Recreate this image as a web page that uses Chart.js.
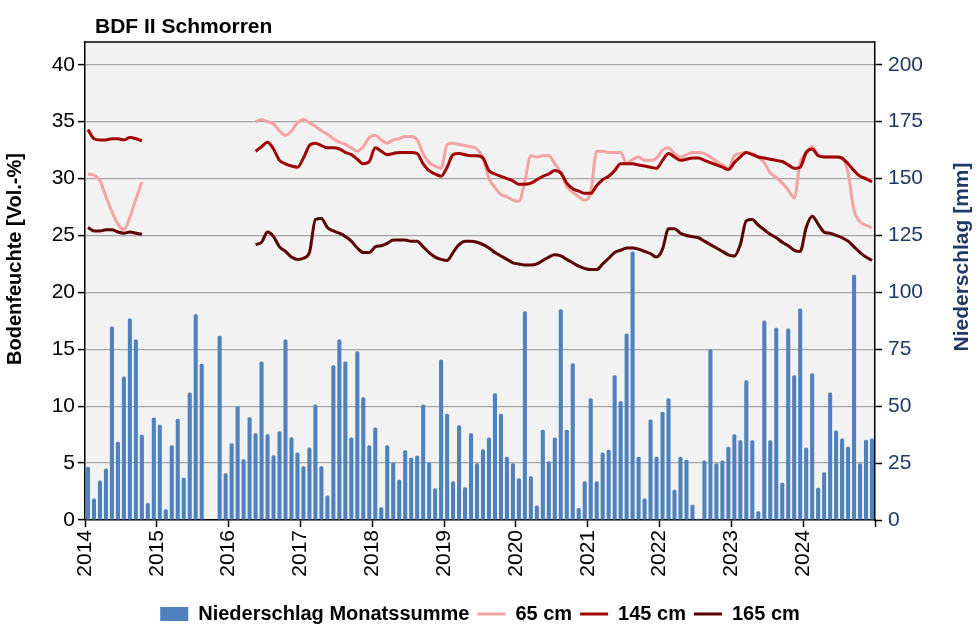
<!DOCTYPE html>
<html>
<head>
<meta charset="utf-8">
<script src="https://cdn.jsdelivr.net/npm/chart.js@4.4.0/dist/chart.umd.min.js"></script>
<style>
  html, body { margin: 0; padding: 0; background: #fff; }
  #wrap { width: 977px; height: 631px; }
</style>
</head>
<body>
<div id="wrap"><canvas id="chart" width="977" height="631"></canvas></div>
<script>
// years shown on the x axis, months are built from them
const years = [2014, 2015, 2016, 2017, 2018, 2019, 2020, 2021, 2022, 2023, 2024];
const months = [];
years.forEach(y => { for (let m = 1; m <= 12; m++) months.push(y + '-' + (m < 10 ? '0' + m : m)); });

// tick labels of both value axes
const leftTicks = [0, 5, 10, 15, 20, 25, 30, 35, 40];
const rightTicks = [0, 25, 50, 75, 100, 125, 150, 175, 200];

// monthly precipitation sum [mm], Jan 2014 .. Dec 2024 (Sep/Oct 2015 missing)
const rain2014 = [23.4, 9.5, 17.4, 22.6, 85, 34.4, 63, 88.5, 79.3, 37.5, 7.5, 45];
const rain2015 = [41.9, 4.7, 32.8, 44.5, 18.6, 56, 90.4, 68.7, null, null, 81, 20.5];
const rain2016 = [33.7, 50.1, 26.7, 45.1, 38.1, 69.6, 37.7, 28.4, 39, 79.3, 36.3, 29.7];
const rain2017 = [23.6, 31.8, 50.7, 23.6, 10.8, 68, 79.3, 69.6, 36.2, 74.1, 53.9, 32.8];
const rain2018 = [40.6, 5.6, 32.8, 25.3, 17.7, 30.6, 27.4, 28.3, 50.7, 25.3, 13.9, 70.5];
const rain2019 = [46.7, 17, 41.6, 14.4, 38.1, 24.9, 31.1, 36.2, 55.7, 46.7, 27.8, 24.9];
const rain2020 = [18.3, 91.7, 19.2, 6.4, 39.7, 25.8, 36.2, 92.6, 39.7, 68.9, 5.3, 17];
const rain2021 = [53.5, 17, 29.7, 30.9, 63.6, 52.2, 81.9, 118, 27.8, 9.5, 44.1, 27.8];
const rain2022 = [47.6, 53.5, 13.3, 27.8, 26.5, 6.7, 0.6, 26.1, 75, 24.9, 26.1, 32.2];
const rain2023 = [37.7, 35, 61.4, 35, 3.8, 87.6, 35, 84.5, 16.4, 84.1, 63.6, 92.9];
const rain2024 = [31.8, 64.5, 14.2, 21, 56, 39.3, 35.8, 32.2, 107.8, 24.9, 35.3, 35.8];

// soil moisture [Vol.-%], monthly, Jan-Oct 2014 then gap until May 2016
const m65_2014 = [30.4, 30.3, 29.8, 28.4, 27.1, 26.0, 25.5, 26.6, 28.2, 29.7];
const m145_2014 = [34.3, 33.5, 33.4, 33.4, 33.5, 33.5, 33.4, 33.6, 33.5, 33.3];
const m165_2014 = [25.7, 25.4, 25.4, 25.5, 25.5, 25.3, 25.2, 25.3, 25.2, 25.1];
const gapMonths = 18; // Nov 2014 .. Apr 2016

// May 2016 .. Dec 2024
const m65 = [35.0, 35.2, 35.0, 34.8, 34.2, 33.8, 34.2, 34.9,
  35.2, 34.9, 34.6, 34.2, 33.9, 33.5, 33.2, 33.0, 32.7, 32.4, 32.8, 33.6,
  33.8, 33.4, 33.1, 33.4, 33.5, 33.7, 33.7, 33.4, 32.2, 31.4, 31.1, 30.9,
  33.0, 33.1, 33.0, 32.9, 32.8, 32.6, 31.8, 30.0, 29.2, 28.6, 28.4, 28.1,
  28.0, 29.8, 32.0, 31.9, 32.0, 32.0, 31.3, 30.5, 29.3, 28.8, 28.4, 28.1,
  28.8, 32.4, 32.4, 32.3, 32.3, 32.3, 31.3, 31.7, 31.9, 31.6, 31.6, 31.8,
  32.5, 32.7, 32.2, 31.9, 32.1, 32.3, 32.3, 32.2, 31.9, 31.5, 31.2, 30.9,
  32.0, 32.2, 32.3, 32.2, 31.9, 31.4, 30.5, 30.1, 29.6, 29.0, 28.3, 31.4,
  32.2, 32.8, 32.1, 31.9, 31.9, 31.9, 31.8, 30.5, 27.2, 26.2, 25.9, 25.7];
const m145 = [32.4, 32.8, 33.2, 32.6, 31.6, 31.3, 31.1, 31.0,
  31.8, 32.9, 33.1, 32.9, 32.7, 32.7, 32.6, 32.3, 32.1, 31.7, 31.3, 31.5,
  32.7, 32.4, 32.1, 32.2, 32.3, 32.3, 32.3, 32.2, 31.3, 30.7, 30.4, 30.2,
  31.0, 32.1, 32.2, 32.1, 32.0, 32.0, 31.8, 30.7, 30.4, 30.2, 30.0, 29.8,
  29.5, 29.5, 29.6, 29.9, 30.2, 30.4, 30.7, 30.5, 29.6, 29.1, 28.9, 28.7,
  28.7, 29.4, 29.9, 30.2, 30.7, 31.3, 31.3, 31.3, 31.2, 31.1, 31.0, 30.9,
  31.6, 32.2, 31.9, 31.6, 31.7, 31.8, 31.8, 31.6, 31.4, 31.2, 31.0, 30.8,
  31.4, 31.9, 32.3, 32.1, 31.9, 31.8, 31.7, 31.6, 31.5, 31.2, 30.9, 31.0,
  32.3, 32.6, 32.0, 31.9, 31.9, 31.9, 31.8, 31.3, 30.7, 30.2, 30.0, 29.7];
const m165 = [24.2, 24.4, 25.3, 24.9, 24.0, 23.6, 23.1, 22.9,
  23.0, 23.5, 26.4, 26.5, 25.7, 25.4, 25.2, 24.9, 24.5, 23.9, 23.5, 23.5,
  24.0, 24.1, 24.3, 24.6, 24.6, 24.6, 24.5, 24.5, 24.0, 23.5, 23.1, 22.9,
  22.8, 23.5, 24.2, 24.5, 24.5, 24.4, 24.2, 23.9, 23.5, 23.2, 22.9, 22.6,
  22.5, 22.4, 22.4, 22.5, 22.8, 23.1, 23.3, 23.2, 22.9, 22.6, 22.3, 22.1,
  22.0, 22.0, 22.5, 23.0, 23.5, 23.7, 23.9, 23.9, 23.8, 23.6, 23.4, 23.1,
  23.8, 25.6, 25.6, 25.2, 25.0, 24.9, 24.8, 24.5, 24.2, 23.9, 23.6, 23.3,
  23.2, 24.2, 26.3, 26.4, 25.9, 25.5, 25.1, 24.8, 24.4, 24.1, 23.7, 23.6,
  25.7, 26.7, 26.0, 25.3, 25.2, 25.0, 24.8, 24.5, 24.0, 23.5, 23.1, 22.8];

const rain = [].concat(rain2014, rain2015, rain2016, rain2017, rain2018, rain2019,
  rain2020, rain2021, rain2022, rain2023, rain2024);

function withGap(first, rest) {
  return first.concat(new Array(gapMonths).fill(null), rest);
}

const FONT = "'Liberation Sans', Arial, sans-serif";
Chart.defaults.font.family = FONT;
Chart.defaults.color = '#000';

function verticalText(ctx, text, x, y, color) {
  ctx.save();
  ctx.translate(x, y);
  ctx.rotate(-Math.PI / 2);
  ctx.fillStyle = color;
  ctx.textAlign = 'center';
  ctx.textBaseline = 'middle';
  ctx.fillText(text, 0, 0);
  ctx.restore();
}

// grey plot background, black top border, heading and the two axis titles
const plotFrame = {
  id: 'plotFrame',
  beforeDraw(chart) {
    const { ctx, chartArea: a } = chart;
    ctx.save();
    ctx.fillStyle = '#f2f2f2';
    ctx.fillRect(a.left, a.top, a.right - a.left, a.bottom - a.top);
    ctx.restore();
  },
  afterDraw(chart) {
    const { ctx, chartArea: a } = chart;
    ctx.save();
    ctx.strokeStyle = '#000';
    ctx.lineWidth = 1.5;
    ctx.beginPath();
    ctx.moveTo(a.left, a.top);
    ctx.lineTo(a.right, a.top);
    ctx.stroke();
    ctx.fillStyle = '#000';
    ctx.font = 'bold 21px ' + FONT;
    ctx.textBaseline = 'alphabetic';
    ctx.fillText('BDF II Schmorren', 95, 33);
    ctx.font = 'bold 20px ' + FONT;
    verticalText(ctx, 'Bodenfeuchte [Vol.-%]', 15, 259, '#000');
    ctx.font = 'bold 21px ' + FONT;
    verticalText(ctx, 'Niederschlag [mm]', 962, 257, '#1f3864');
    ctx.restore();
  }
};

const ctx = document.getElementById('chart').getContext('2d');
const myChart = new Chart(ctx, {
  type: 'bar',
  data: {
    labels: months,
    datasets: [{
      type: 'bar',
      label: 'Niederschlag Monatssumme',
      data: rain,
      yAxisID: 'y2',
      xAxisID: 'x',
      backgroundColor: '#4f81bd',
      borderColor: '#4f81bd',
      borderWidth: 0,
      borderRadius: 1.5,
      borderSkipped: 'bottom',
      barPercentage: 0.68,
      categoryPercentage: 1.0,
      order: 4
    }, {
      type: 'line',
      label: '65 cm',
      data: withGap(m65_2014, m65),
      yAxisID: 'y',
      xAxisID: 'x',
      borderColor: '#f4a3a3',
      backgroundColor: '#f4a3a3',
      borderWidth: 3,
      pointRadius: 0,
      cubicInterpolationMode: 'monotone',
      spanGaps: false,
      order: 3
    }, {
      type: 'line',
      label: '145 cm',
      data: withGap(m145_2014, m145),
      yAxisID: 'y',
      xAxisID: 'x',
      borderColor: '#a00000',
      backgroundColor: '#a00000',
      borderWidth: 3,
      pointRadius: 0,
      cubicInterpolationMode: 'monotone',
      spanGaps: false,
      order: 2
    }, {
      type: 'line',
      label: '165 cm',
      data: withGap(m165_2014, m165),
      yAxisID: 'y',
      xAxisID: 'x',
      borderColor: '#5c0000',
      backgroundColor: '#5c0000',
      borderWidth: 3,
      pointRadius: 0,
      cubicInterpolationMode: 'monotone',
      spanGaps: false,
      order: 1
    }]
  },
  options: {
    responsive: false,
    animation: false,
    devicePixelRatio: 1,
    layout: { padding: { top: 42, left: 0, right: 0, bottom: -3 } },
    plugins: {
      title: { display: false },
      tooltip: { enabled: false },
      legend: {
        position: 'bottom',
        fullSize: false,
        labels: {
          color: '#000',
          font: { size: 20, weight: 'bold' },
          usePointStyle: true,
          boxHeight: 14,
          pointStyleWidth: 28,
          padding: 8,
          generateLabels: chart => chart.data.datasets.map((ds, i) => ({
            text: ds.label,
            datasetIndex: i,
            fillStyle: ds.backgroundColor,
            strokeStyle: ds.borderColor,
            lineWidth: ds.type === 'bar' ? 0 : 3,
            pointStyle: ds.type === 'bar' ? 'rect' : 'line',
            fontColor: '#000',
            hidden: false
          }))
        }
      }
    },
    scales: {
      x: {
        type: 'category',
        display: false,
        offset: true,
        grid: { display: false }
      },
      xYear: {
        type: 'linear',
        position: 'bottom',
        min: 2014,
        max: 2025,
        offset: false,
        ticks: {
          stepSize: 1,
          autoSkip: false,
          minRotation: 90,
          maxRotation: 90,
          color: '#000',
          font: { size: 21 },
          padding: 3,
          callback: v => (v < 2025 ? String(v) : '')
        },
        grid: { offset: false, drawOnChartArea: false, drawTicks: true, tickLength: 7, tickColor: '#000', tickWidth: 1.5 },
        border: { color: '#000', width: 1.5 },
        afterFit: s => { s.height = 76; }
      },
      y: {
        position: 'left',
        min: 0,
        max: 42,
        afterBuildTicks: s => { s.ticks = leftTicks.map(v => ({ value: v })); },
        ticks: { color: '#000', font: { size: 21 }, padding: 3 },
        grid: { color: '#a6a6a6', lineWidth: 1.2, tickColor: '#000', tickLength: 7, tickWidth: 1.5 },
        border: { color: '#000', width: 1.5 },
        afterFit: s => { s.width = 85; }
      },
      y2: {
        position: 'right',
        min: 0,
        max: 210,
        afterBuildTicks: s => { s.ticks = rightTicks.map(v => ({ value: v })); },
        ticks: { color: '#1f3864', font: { size: 21 }, padding: 6 },
        grid: { drawOnChartArea: false, tickColor: '#000', tickLength: 7, tickWidth: 1.5 },
        border: { color: '#000', width: 1.5 },
        afterFit: s => { s.width = 102; }
      }
    }
  },
  plugins: [plotFrame]
});
</script>
</body>
</html>
